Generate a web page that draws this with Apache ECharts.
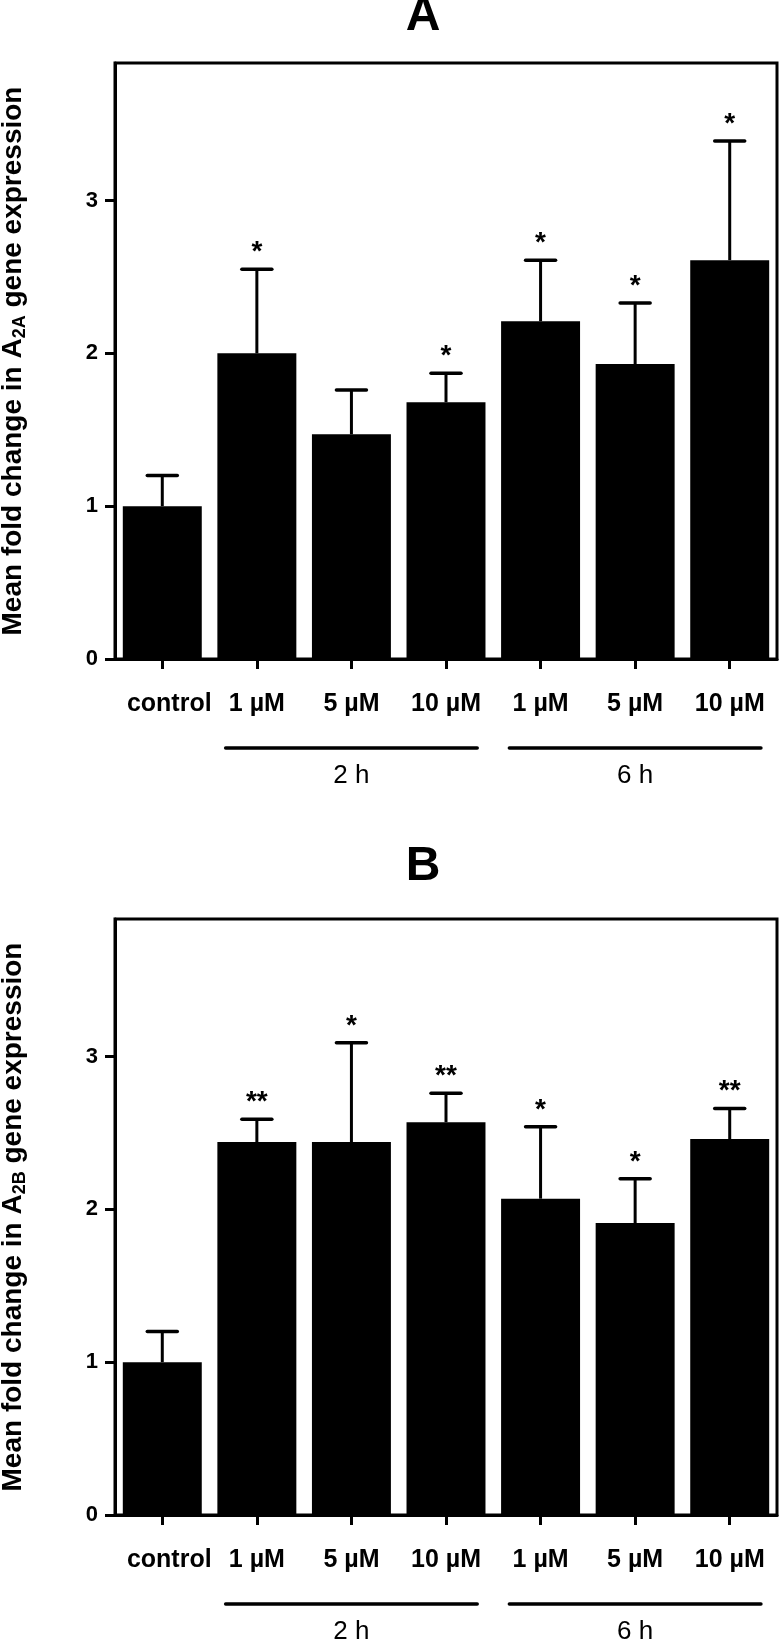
<!DOCTYPE html>
<html><head><meta charset="utf-8">
<script src="https://cdn.jsdelivr.net/npm/echarts@6/dist/echarts.min.js"></script>
<style>html,body{margin:0;padding:0;background:#fff}#c{width:780px;height:1641px}</style>
</head><body><div id="c"></div>
<script>
// ---- data ----
const categories = ['control', '1 µM', '5 µM', '10 µM', '1 µM', '5 µM', '10 µM'];
const meanA = [1.00, 2.00, 1.47, 1.68, 2.21, 1.93, 2.61];
const errA  = [0.20, 0.55, 0.29, 0.19, 0.40, 0.40, 0.78];
const sigA  = ['', '*', '', '*', '*', '*', '*'];
const meanB = [1.00, 2.44, 2.44, 2.57, 2.07, 1.91, 2.46];
const errB  = [0.20, 0.15, 0.65, 0.19, 0.47, 0.29, 0.20];
const sigB  = ['', '**', '*', '**', '*', '*', '**'];
const groupLabels = ['2 h', '6 h'];
const groupFrom = [1, 4];
const groupTo = [3, 6];
const yTicks = [0, 1, 2, 3];
const panelTitles = ['A', 'B'];
const receptorSub = ['2A', '2B'];

const FF = '"Liberation Sans", Arial, Helvetica, sans-serif';
const chart = echarts.init(document.getElementById('c'), null, {renderer: 'canvas'});

const gridTops = [63, 919];
const panels = [
  {mean: meanA, err: errA, sig: sigA},
  {mean: meanB, err: errB, sig: sigB}
];

const grids = gridTops.map(t => ({
  left: 115, top: t, width: 662, height: 596,
  containLabel: false, outerBoundsMode: 'none',
  show: true, borderColor: '#000', borderWidth: 3, backgroundColor: 'transparent'
}));

const xAxes = panels.map((p, k) => ({
  gridIndex: k, type: 'category', data: categories,
  axisLine: {show: true, lineStyle: {color: '#000', width: 3}},
  axisTick: {show: true, alignWithLabel: true, length: 10, lineStyle: {color: '#000', width: 3}},
  axisLabel: {
    interval: 0, margin: 33, color: '#000', fontSize: 25, fontWeight: 'bold', fontFamily: FF,
    formatter: (v, i) => i === 0 ? '{c|' + v + '}' : v,
    rich: {c: {padding: [0, 0, 0, 14], color: '#000', fontSize: 25, fontWeight: 'bold', fontFamily: FF}}
  },
  splitLine: {show: false}
}));

const yAxes = panels.map((p, k) => ({
  gridIndex: k, type: 'value', min: 0, max: 3.9, interval: 1,
  axisLine: {show: true, lineStyle: {color: '#000', width: 3}},
  axisTick: {show: true, length: 10, customValues: yTicks, lineStyle: {color: '#000', width: 3}},
  axisLabel: {customValues: yTicks, margin: 17, color: '#000', fontSize: 22, fontWeight: 'bold', fontFamily: FF},
  splitLine: {show: false},
  name: '{a|Mean fold change in A}{s|' + receptorSub[k] + '}{a| gene expression}',
  nameLocation: 'middle', nameRotate: 90, nameGap: 86,
  nameTextStyle: {
    rich: {
      a: {fontSize: 28, fontWeight: 'bold', fontFamily: FF, color: '#000', lineHeight: 32},
      s: {fontSize: 18, fontWeight: 'bold', fontFamily: FF, color: '#000', lineHeight: 32, verticalAlign: 'bottom'}
    }
  }
}));

const series = [];
panels.forEach((p, k) => {
  series.push({
    type: 'bar', xAxisIndex: k, yAxisIndex: k, data: p.mean,
    barCategoryGap: '16.5%', itemStyle: {color: '#000'}, silent: true
  });
  series.push({
    type: 'custom', xAxisIndex: k, yAxisIndex: k, z: 5, silent: true,
    data: p.mean.map((m, i) => [i, m, p.err[i]]),
    encode: {x: 0, y: 1},
    renderItem: (params, api) => {
      const i = api.value(0), m = api.value(1), e = api.value(2);
      const a = api.coord([i, m]);
      const b = api.coord([i, m + e]);
      const cap = 15;
      const s = p.sig[params.dataIndex];
      return {type: 'group', children: [
        {type: 'line', shape: {x1: a[0], y1: a[1], x2: b[0], y2: b[1]}, style: {stroke: '#000', lineWidth: 3}},
        {type: 'line', shape: {x1: b[0] - cap, y1: b[1], x2: b[0] + cap, y2: b[1]}, style: {stroke: '#000', lineWidth: 3.5, lineCap: 'round'}},
        {type: 'text', x: b[0], y: b[1] - 17, style: {text: s, fill: '#000', font: 'bold 28px ' + FF, align: 'center', verticalAlign: 'middle'}}
      ]};
    }
  });
  series.push({
    type: 'custom', xAxisIndex: k, yAxisIndex: k, z: 5, silent: true, clip: false,
    data: groupFrom.map((f, g) => [f, groupTo[g]]),
    encode: {x: [0, 1]},
    renderItem: (params, api) => {
      const a = api.coord([api.value(0), 0]);
      const b = api.coord([api.value(1), 0]);
      const bw = api.size([1, 0])[0];
      const x1 = a[0] - 0.33 * bw, x2 = b[0] + 0.33 * bw, y = a[1] + 89;
      return {type: 'group', children: [
        {type: 'line', shape: {x1: x1, y1: y, x2: x2, y2: y}, style: {stroke: '#000', lineWidth: 3.5, lineCap: 'round'}},
        {type: 'text', x: (x1 + x2) / 2, y: y + 28, style: {text: groupLabels[params.dataIndex], fill: '#000', font: '26px ' + FF, align: 'center', verticalAlign: 'middle'}}
      ]};
    }
  });
});

chart.setOption({
  animation: false,
  backgroundColor: '#fff',
  grid: grids,
  xAxis: xAxes,
  yAxis: yAxes,
  series: series,
  graphic: panelTitles.map((t, k) => ({
    type: 'text', x: 423, y: [17, 867][k],
    style: {text: t, fill: '#000', font: 'bold 48px ' + FF, align: 'center', verticalAlign: 'middle'}
  }))
});
</script></body></html>
